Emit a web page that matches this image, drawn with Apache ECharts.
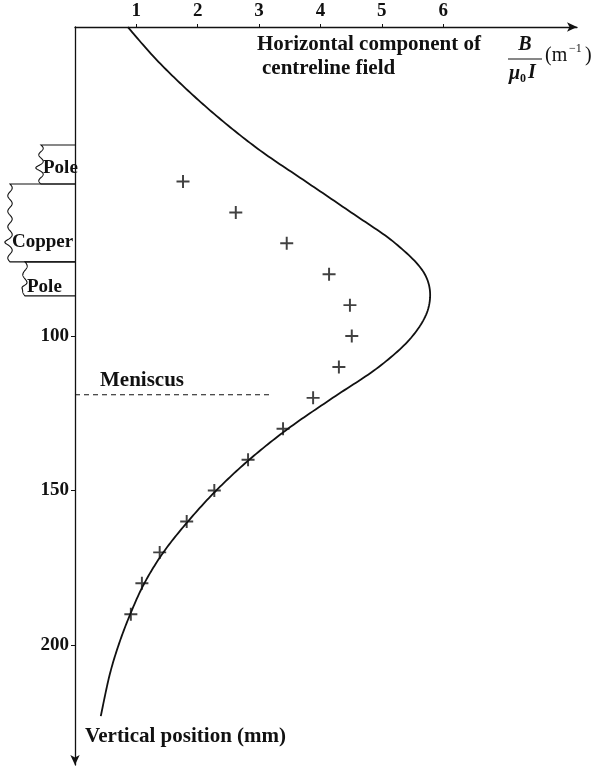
<!DOCTYPE html>
<html>
<head>
<meta charset="utf-8">
<script src="https://cdn.jsdelivr.net/npm/echarts@6/dist/echarts.min.js"></script>
<style>
  html, body { margin: 0; padding: 0; background: #fff; }
  #chart { width: 600px; height: 767px; }
</style>
</head>
<body>
<div id="chart"></div>
<script>
// Theoretical centreline field: depth (mm) against B/(mu0 I) (1/m)
const curveDepth = [0, 10, 20, 30, 40, 50, 60, 70, 80, 90, 100, 110, 120, 130, 140, 150, 160, 170, 180, 190, 200, 210, 223];
const curveField = [0.86, 1.30, 1.81, 2.38, 3.02, 3.76, 4.50, 5.22, 5.70, 5.77, 5.50, 4.95, 4.20, 3.47, 2.84, 2.30, 1.84, 1.44, 1.13, 0.90, 0.71, 0.56, 0.42];

// Measured values
const measDepth = [50, 60, 70, 80, 90, 100, 110, 120, 130, 140, 150, 160, 170, 180, 190];
const measField = [1.76, 2.62, 3.45, 4.14, 4.48, 4.51, 4.30, 3.88, 3.39, 2.82, 2.27, 1.82, 1.38, 1.09, 0.91];

// Meniscus level and the span of its dashed marker
const meniscusDepth = 119;
const meniscusSpan = [0, 3.18];

// Axis ticks
const fieldTicks = [1, 2, 3, 4, 5, 6];
const depthTicks = [100, 150, 200];

// Electrode stack beside the depth axis (mm)
const layerNames = ['Pole', 'Copper', 'Pole'];
const layerTop = [38.2, 50.8, 76];
const layerBottom = [50.8, 76, 87];
const layerLabelDepth = [45.6, 69.6, 84.1];

const FONT = 'Liberation Serif';
const INK = '#111';

// Catmull-Rom spline through the curve's points, in pixel space
function renderCurve(params, api) {
  if (params.dataIndex !== 0) return null;
  const pts = curveField.map((v, i) => api.coord([v, curveDepth[i]]));
  const out = [];
  const n = pts.length;
  for (let i = 0; i < n - 1; i++) {
    const p0 = pts[Math.max(0, i - 1)], p1 = pts[i], p2 = pts[i + 1], p3 = pts[Math.min(n - 1, i + 2)];
    for (let s = 0; s < 16; s++) {
      const t = s / 16, t2 = t * t, t3 = t2 * t;
      const f = k => 0.5 * ((2 * p1[k]) + (-p0[k] + p2[k]) * t +
        (2 * p0[k] - 5 * p1[k] + 4 * p2[k] - p3[k]) * t2 +
        (-p0[k] + 3 * p1[k] - 3 * p2[k] + p3[k]) * t3);
      out.push([f(0), f(1)]);
    }
  }
  out.push(pts[n - 1]);
  return {
    type: 'polyline',
    shape: { points: out },
    style: { stroke: INK, lineWidth: 1.8, fill: null, lineJoin: 'round' }
  };
}

const chart = echarts.init(document.getElementById('chart'), null, { renderer: 'canvas' });

const option = {
  backgroundColor: '#fff',
  animation: false,
  grid: { left: 75, top: 27, width: 502, height: 738, containLabel: false },
  xAxis: {
    type: 'value',
    position: 'top',
    min: 0,
    max: 8.18,
    splitLine: { show: false },
    axisLine: {
      show: true,
      symbol: ['none', 'arrow'],
      symbolSize: [7, 10],
      lineStyle: { color: INK, width: 1.3 }
    },
    axisTick: { show: true, customValues: fieldTicks, length: 3, lineStyle: { color: INK, width: 1 } },
    axisLabel: {
      customValues: fieldTicks,
      margin: 6,
      color: INK,
      fontFamily: FONT,
      fontWeight: 'bold',
      fontSize: 19
    }
  },
  yAxis: {
    type: 'value',
    inverse: true,
    min: 0,
    max: 238.8,
    splitLine: { show: false },
    axisLine: {
      show: true,
      symbol: ['arrow', 'none'],
      symbolSize: [7, 10],
      lineStyle: { color: INK, width: 1.3 }
    },
    axisTick: { show: true, customValues: depthTicks, length: 4, lineStyle: { color: INK, width: 1 } },
    axisLabel: {
      customValues: depthTicks,
      margin: 6,
      color: INK,
      fontFamily: FONT,
      fontWeight: 'bold',
      fontSize: 19
    }
  },
  series: [
    {
      name: 'Theory',
      type: 'custom',
      data: curveField.map((v, i) => [v, curveDepth[i]]),
      encode: { x: 0, y: 1 },
      renderItem: renderCurve,
      silent: true,
      z: 3
    },
    {
      name: 'Measured',
      type: 'scatter',
      data: measField.map((v, i) => [v, measDepth[i]]),
      symbol: 'path://M4.25,0h1.5v10h-1.5zM0,4.25h10v1.5h-10z',
      symbolSize: 13,
      itemStyle: { color: INK },
      z: 4
    },
    {
      name: 'Meniscus',
      type: 'line',
      data: meniscusSpan.map(v => [v, meniscusDepth]),
      showSymbol: false,
      lineStyle: { color: INK, width: 1, type: [5, 4] },
      z: 2
    }
  ]
};

chart.setOption(option);

// ---- annotations drawn in pixel space ----
const toPx = (x, y) => chart.convertToPixel({ gridIndex: 0 }, [x, y]);
const axisX = toPx(0, 0)[0];

// wavy left edge of a layer, with a small brace point beside its label
function wavyEdge(x, y0, y1, tipY) {
  const pts = [];
  const span = y1 - y0;
  const waves = Math.max(2, Math.round(span / 15));
  for (let k = 0; k <= 120; k++) {
    const y = y0 + span * k / 120;
    const wave = 2.2 * Math.sin((y - y0) / span * waves * 2 * Math.PI);
    const tip = -3 * Math.exp(-Math.pow((y - tipY) / 2.5, 2));
    pts.push([x + wave + tip, y]);
  }
  return pts;
}

const layerLeft = [41, 10, 25];
const graphics = [];
layerNames.forEach((name, i) => {
  const yTop = toPx(0, layerTop[i])[1];
  const yBot = toPx(0, layerBottom[i])[1];
  const yLab = toPx(0, layerLabelDepth[i])[1];
  const left = layerLeft[i];
  const edge = wavyEdge(left, yTop, yBot, yLab);
  const pts = [[axisX, yTop], [left, yTop]].concat(edge).concat([[left, yBot], [axisX, yBot]]);
  graphics.push({
    type: 'polyline',
    shape: { points: pts, smooth: 0 },
    style: { stroke: INK, lineWidth: 1.1, fill: null },
    silent: true
  });
  graphics.push({
    type: 'text',
    x: left + 2,
    y: yLab,
    style: { text: name, fill: INK, fontFamily: FONT, fontWeight: 'bold', fontSize: 19, align: 'left', verticalAlign: 'middle' },
    silent: true
  });
});

function label(text, x, y, opts) {
  graphics.push({
    type: 'text',
    x: x,
    y: y,
    style: Object.assign({ text: text, fill: INK, fontFamily: FONT, fontWeight: 'bold', fontSize: 21, align: 'left', verticalAlign: 'middle' }, opts || {}),
    silent: true
  });
}

// axis titles
label('Horizontal component of', 257, 45);
label('centreline field', 262, 69);
label('B', 525, 45, { fontStyle: 'italic', align: 'center', fontSize: 20 });
graphics.push({ type: 'line', shape: { x1: 508, y1: 59, x2: 542, y2: 59 }, style: { stroke: INK, lineWidth: 1.2 }, silent: true });
label('\u03bc', 509, 74, { fontStyle: 'italic', fontSize: 20 });
label('0', 520, 79, { fontSize: 12 });
label('I', 528, 73, { fontStyle: 'italic', fontSize: 20 });
label('(m', 545, 56, { fontWeight: 'normal', fontSize: 20 });
label('\u22121', 569, 49, { fontSize: 12, fontWeight: 'normal' });
label(')', 585, 56, { fontWeight: 'normal', fontSize: 20 });
label('Vertical position (mm)', 85, 737);

// meniscus label above the dashed line
const menY = toPx(0, meniscusDepth)[1];
label('Meniscus', 100, menY - 14);

chart.setOption({ graphic: graphics });
</script>
</body>
</html>
